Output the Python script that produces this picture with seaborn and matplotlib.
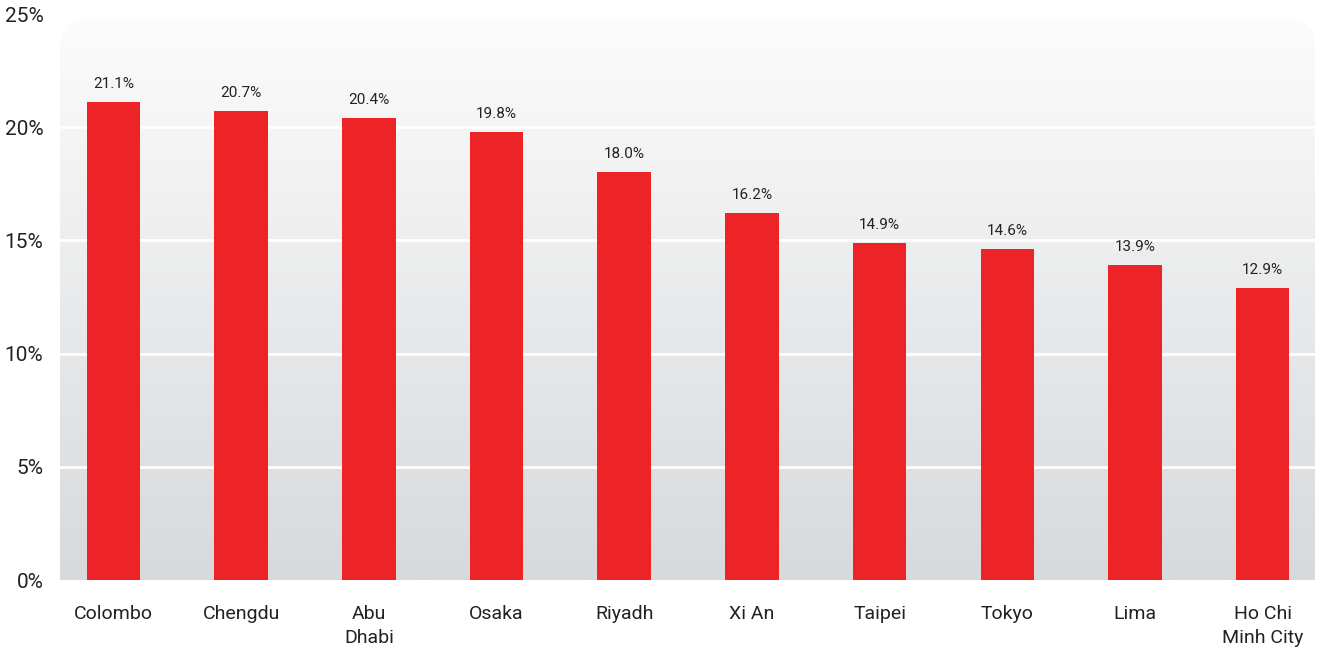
import numpy as np
import pandas as pd
import matplotlib
matplotlib.use("Agg")
import matplotlib.pyplot as plt
import seaborn as sns
from matplotlib.patches import FancyBboxPatch

cities = ["Colombo", "Chengdu", "Abu\nDhabi", "Osaka", "Riyadh", "Xi An",
          "Taipei", "Tokyo", "Lima", "Ho Chi\nMinh City"]
growth = [21.1, 20.7, 20.4, 19.8, 18.0, 16.2, 14.9, 14.6, 13.9, 12.9]
y_ticks = [0, 5, 10, 15, 20, 25]

RED = "#ED2328"
TEXT = "#222222"

sns.set_style("white")
plt.rcParams["font.family"] = ["Roboto", "DejaVu Sans"]

df = pd.DataFrame({"city": cities, "growth": growth})

fig = plt.figure(figsize=(13.2, 6.5), dpi=100)
ax = fig.add_axes([60 / 1320, 70 / 650, 1255 / 1320, 566 / 650])

# gradient background, rounded top corners
grad = np.linspace(0, 1, 256).reshape(-1, 1)
img = ax.imshow(grad, extent=[0, 1, 0, 0.99], transform=ax.transAxes,
                cmap=matplotlib.colors.LinearSegmentedColormap.from_list(
                    "bg", ["#D8D9DA", "#E9EAEB", "#FCFCFC"]),
                aspect="auto", origin="lower", zorder=0)
clip = FancyBboxPatch((0, -0.2), 1, 1.19, transform=ax.transAxes,
                      boxstyle="round,pad=0,rounding_size=0.02",
                      mutation_aspect=1255 / 566, facecolor="none", edgecolor="none")
ax.add_patch(clip)
img.set_clip_path(clip)

sns.barplot(data=df, x="city", y="growth", color=RED, width=0.42,
            saturation=1, linewidth=0, ax=ax, zorder=3)

for t in y_ticks[1:-1]:
    ax.axhline(t, color="white", lw=2, zorder=1)

ax.bar_label(ax.containers[0], labels=[f"{v:.1f}%" for v in growth],
             padding=8, fontsize=11, color=TEXT)

ax.set_xlim(-0.42, 9.41)
ax.set_ylim(0, 25)
ax.set_yticks(y_ticks)
ax.set_yticklabels([f"{t}%" for t in y_ticks], fontsize=15, color=TEXT)
ax.tick_params(axis="y", length=0, pad=12)
ax.tick_params(axis="x", length=0, pad=18, labelsize=14, labelcolor=TEXT)
for lbl in ax.get_xticklabels():
    lbl.set_linespacing(1.45)
ax.set_xlabel("")
ax.set_ylabel("")
for s in ax.spines.values():
    s.set_visible(False)

fig.savefig("out.png", dpi=100, facecolor="white")
